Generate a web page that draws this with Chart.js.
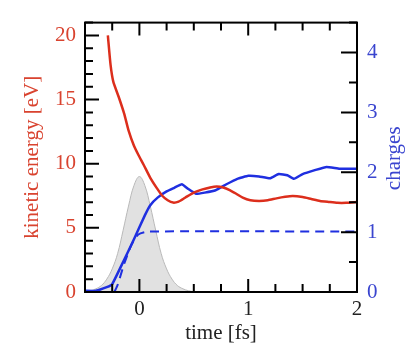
<!DOCTYPE html>
<html>
<head>
<meta charset="utf-8">
<script src="https://cdn.jsdelivr.net/npm/chart.js@4/dist/chart.umd.min.js"></script>
<style>
  html, body { margin: 0; padding: 0; background: #fff; }
  #wrap { width: 415px; height: 363px; }
</style>
</head>
<body>
<div id="wrap"><canvas id="c" width="415" height="363"></canvas></div>
<script>
// kinetic energy [eV] (left axis)
const keTime = [-0.29, -0.265, -0.24, -0.19, -0.14, -0.1, -0.05, -0.01, 0.04, 0.1, 0.16, 0.21, 0.26, 0.31, 0.36, 0.42, 0.5, 0.58, 0.65, 0.71, 0.77, 0.83, 0.89, 0.95, 1.02, 1.1, 1.18, 1.26, 1.34, 1.41, 1.5, 1.58, 1.66, 1.74, 1.82, 1.9, 2.0];
const keValue = [20.0, 17.7, 16.4, 15.2, 13.9, 12.6, 11.4, 10.7, 9.9, 8.9, 8.1, 7.5, 7.15, 6.97, 7.05, 7.35, 7.75, 8.0, 8.15, 8.22, 8.15, 7.95, 7.66, 7.35, 7.15, 7.1, 7.15, 7.3, 7.42, 7.48, 7.4, 7.25, 7.1, 7.02, 6.95, 6.95, 7.02];

// charges (right axis), solid line
const chTime = [-0.5, -0.4, -0.3, -0.25, -0.15, -0.05, 0.05, 0.1, 0.17, 0.25, 0.32, 0.39, 0.45, 0.52, 0.6, 0.7, 0.8, 0.9, 1.0, 1.1, 1.2, 1.28, 1.36, 1.42, 1.5, 1.62, 1.72, 1.84, 2.0];
const chValue = [0.02, 0.02, 0.08, 0.13, 0.5, 0.88, 1.28, 1.45, 1.58, 1.68, 1.74, 1.8, 1.72, 1.64, 1.66, 1.7, 1.8, 1.89, 1.94, 1.93, 1.9, 1.97, 1.95, 1.89, 1.97, 2.04, 2.09, 2.06, 2.06];

// charges, dashed line
const chDashTime = [-0.23, -0.2, -0.14, -0.07, -0.01, 0.08, 2.0];
const chDashValue = [0.0, 0.12, 0.47, 0.8, 0.96, 1.01, 1.01];

// laser pulse envelope (grey, left-axis units)
const pulseTime = [-0.5, -0.45, -0.4, -0.35, -0.3, -0.25, -0.2, -0.15, -0.1, -0.05, 0, 0.05, 0.1, 0.15, 0.2, 0.25, 0.3, 0.35, 0.4, 0.45, 0.5];
const pulseValue = [0.03, 0.1, 0.25, 0.5, 1.0, 1.8, 3.0, 4.8, 6.7, 8.3, 9.0, 8.3, 6.7, 4.8, 3.0, 1.8, 1.0, 0.5, 0.25, 0.1, 0.03];

const xLabels = [0, 1, 2];
const yLabels = [0, 5, 10, 15, 20];
const y2Labels = [0, 1, 2, 3, 4];

const RED = '#dc2e1c';
const RED_TXT = '#d9432f';
const BLUE = '#1f2fe0';
const BLUE_TXT = '#3a45cf';
const FONT = 'Liberation Serif, Times New Roman, serif';

const pts = (xs, ys) => xs.map((x, i) => ({ x, y: ys[i] }));

// frame + inward tick marks on all four sides
const frameTicks = {
  id: 'frameTicks',
  afterDatasetsDraw(chart) {
    const { ctx, chartArea: a, scales } = chart;
    ctx.save();
    ctx.strokeStyle = '#000';
    ctx.lineWidth = 2;
    ctx.beginPath();
    scales.x.ticks.forEach((t) => {
      const px = scales.x.getPixelForValue(t.value);
      const len = Number.isInteger(t.value) ? 13 : 8;
      ctx.moveTo(px, a.bottom); ctx.lineTo(px, a.bottom - len);
      ctx.moveTo(px, a.top); ctx.lineTo(px, a.top + len);
    });
    scales.y.ticks.forEach((t) => {
      const py = scales.y.getPixelForValue(t.value);
      const len = t.value % 5 === 0 ? 14 : 8;
      ctx.moveTo(a.left, py); ctx.lineTo(a.left + len, py);
    });
    scales.y2.ticks.forEach((t) => {
      const py = scales.y2.getPixelForValue(t.value);
      const len = Number.isInteger(t.value) ? 16 : 8;
      ctx.moveTo(a.right, py); ctx.lineTo(a.right - len, py);
    });
    ctx.stroke();
    ctx.strokeRect(a.left, a.top, a.right - a.left, a.bottom - a.top);

    // right axis title, reading bottom to top
    ctx.fillStyle = BLUE_TXT;
    ctx.font = '21px ' + FONT;
    ctx.textAlign = 'center';
    ctx.textBaseline = 'middle';
    ctx.translate(394, (a.top + a.bottom) / 2 + 1);
    ctx.rotate(-Math.PI / 2);
    ctx.fillText('charges', 0, 0);
    ctx.restore();
  },
};

new Chart(document.getElementById('c'), {
  type: 'line',
  data: {
    datasets: [
      {
        label: 'kinetic energy',
        data: pts(keTime, keValue),
        yAxisID: 'y',
        borderColor: RED,
        borderWidth: 2.5,
        tension: 0.2,
        pointRadius: 0,
        fill: false,
      },
      {
        label: 'charges',
        data: pts(chTime, chValue),
        yAxisID: 'y2',
        borderColor: BLUE,
        borderWidth: 2.5,
        tension: 0.1,
        pointRadius: 0,
        fill: false,
      },
      {
        label: 'charges (dashed)',
        data: pts(chDashTime, chDashValue),
        yAxisID: 'y2',
        borderColor: BLUE,
        borderWidth: 2,
        borderDash: [9, 6],
        tension: 0.2,
        pointRadius: 0,
        fill: false,
      },
      {
        label: 'pulse',
        data: pts(pulseTime, pulseValue),
        yAxisID: 'y',
        borderColor: '#b9b9b9',
        backgroundColor: '#e1e1e1',
        borderWidth: 1,
        tension: 0.4,
        pointRadius: 0,
        fill: 'origin',
      },
    ],
  },
  options: {
    responsive: false,
    animation: false,
    layout: { padding: { top: 17, left: 0, right: 0, bottom: 0 } },
    plugins: { legend: { display: false }, tooltip: { enabled: false } },
    scales: {
      x: {
        type: 'linear',
        min: -0.5,
        max: 2,
        grid: { display: false, drawTicks: false },
        border: { display: false },
        ticks: {
          stepSize: 0.25,
          autoSkip: false,
          maxRotation: 0,
          padding: 5,
          color: '#222',
          font: { family: FONT, size: 21 },
          callback: (v) => (xLabels.includes(v) ? String(v) : ''),
        },
        title: {
          display: true,
          text: 'time [fs]',
          color: '#222',
          font: { family: FONT, size: 21 },
          padding: { top: 0, bottom: 17 },
        },
        afterFit: (s) => { s.height = 71; },
      },
      y: {
        position: 'left',
        min: 0,
        max: 21,
        grid: { display: false, drawTicks: false },
        border: { display: false },
        ticks: {
          stepSize: 1,
          autoSkip: false,
          maxTicksLimit: 40,
          padding: 9,
          color: RED_TXT,
          font: { family: FONT, size: 21 },
          callback: (v) => (yLabels.includes(v) ? String(v) : ''),
        },
        title: {
          display: true,
          text: 'kinetic energy [eV]',
          color: RED_TXT,
          font: { family: FONT, size: 21 },
          padding: { top: 20, bottom: 0 },
        },
        afterFit: (s) => { s.width = 85; },
      },
      y2: {
        position: 'right',
        min: 0,
        max: 4.5,
        grid: { display: false, drawTicks: false },
        border: { display: false },
        ticks: {
          stepSize: 0.5,
          autoSkip: false,
          padding: 10,
          color: BLUE_TXT,
          font: { family: FONT, size: 21 },
          callback: (v) => (y2Labels.includes(v) ? String(v) : ''),
        },
        afterFit: (s) => { s.width = 58; },
      },
    },
  },
  plugins: [frameTicks],
});
</script>
</body>
</html>
